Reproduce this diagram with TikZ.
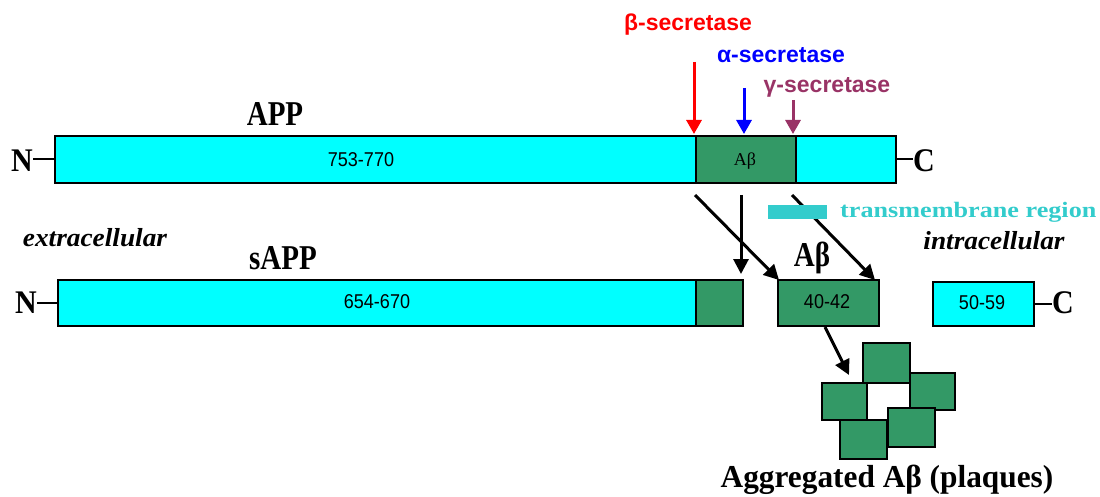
\documentclass[tikz,border=0pt]{standalone}
\usepackage{fontspec}
\setmainfont{Liberation Serif}
\newfontfamily\sansf{Liberation Sans}
\usetikzlibrary{arrows.meta}
\definecolor{cyanbar}{HTML}{00FFFF}
\definecolor{abgreen}{HTML}{339966}
\definecolor{legcyan}{HTML}{33CCCC}
\definecolor{gpurple}{HTML}{993366}
\definecolor{bred}{HTML}{FF0000}
\definecolor{ablue}{HTML}{0000FF}
\tikzset{
  barbox/.style={draw=black, line width=1.8pt, inner sep=0pt, anchor=north west},
  cyanbox/.style={barbox, fill=cyanbar},
  greenbox/.style={barbox, fill=abgreen},
  numlab/.style={font=\sansf\fontsize{20}{20}\selectfont, inner sep=0pt, xscale=0.9},
  biglab/.style={font=\bfseries\fontsize{29}{29}\selectfont, inner sep=0pt},
  endlab/.style={font=\bfseries\fontsize{30}{30}\selectfont, inner sep=0pt},
  celllab/.style={font=\bfseries\itshape\fontsize{26}{26}\selectfont, inner sep=0pt},
  seclab/.style={font=\sansf\bfseries\fontsize{23}{23}\selectfont, inner sep=0pt},
  secarrow/.style={line width=3pt, -{Triangle[length=14pt,width=15pt]}},
  blkarrow/.style={line width=3pt, black, -{Triangle[length=15pt,width=15pt]}},
  plaq/.style={draw=black, line width=1.8pt, fill=abgreen},
  link/.style={line width=1.8pt}
}
\begin{document}
\begin{tikzpicture}[x=1pt,y=-1pt]
\useasboundingbox (0,0) rectangle (1100,497);

% APP bar
\node[cyanbox, minimum width=841pt, minimum height=47pt] (app) at (54,135) {};
\node[greenbox, minimum width=100pt, minimum height=47pt] (appab) at (695,135) {};
\node[numlab] (n1) at (361,160) {753-770};
\node[font=\fontsize{18}{18}\selectfont, inner sep=0pt] (abin) at (745,161) {Aβ};
\node[biglab] (applab) at (275,114) {\scalebox{1}[1.2]{APP}};
\node[endlab, anchor=east] (nA) at (33,161) {\scalebox{1}[1.1]{N}};
\node[endlab, anchor=west] (cA) at (913,161) {\scalebox{1}[1.1]{C}};
\draw[link] (nA.east |- app.west) -- (app.west);
\draw[link] (app.east) -- (cA.west |- app.east);

% secretases
\node[seclab, text=bred] (beta) at (688,25) {β-secretase};
\node[seclab, text=ablue] (alpha) at (781,55) {α-secretase};
\node[seclab, text=gpurple] (gamma) at (827,87) {γ-secretase};
\coordinate (bs) at (694,62);
\coordinate (as) at (744,88);
\coordinate (gs) at (793,100);
\coordinate (bt) at (694,134);
\coordinate (at) at (744,134);
\coordinate (gt) at (793,134);
\draw[secarrow, bred] (bs) -- (bt);
\draw[secarrow, ablue] (as) -- (at);
\draw[secarrow, gpurple] (gs) -- (gt);

% sAPP bar
\node[cyanbox, minimum width=638pt, minimum height=46pt] (sapp) at (57,279) {};
\node[greenbox, minimum width=47pt, minimum height=46pt] (sappab) at (695,279) {};
\node[numlab] (n2) at (377,302) {654-670};
\node[biglab] (sapplab) at (283,258) {\scalebox{1}[1.2]{sAPP}};
\node[endlab, anchor=east] (nS) at (37,303) {\scalebox{1}[1.1]{N}};
\draw[link] (nS.east |- sapp.west) -- (sapp.west);

% Abeta fragment
\node[greenbox, minimum width=101pt, minimum height=46pt] (ab) at (777,279) {};
\node[numlab] (n3) at (827,302) {40-42};
\node[biglab] (ablab) at (812,258) {\scalebox{1}[1.2]{Aβ}};

% C-terminal fragment
\node[cyanbox, minimum width=101pt, minimum height=44pt] (ct) at (932,281) {};
\node[numlab] (n4) at (982,303) {50-59};
\node[endlab, anchor=west] (cC) at (1052,303) {\scalebox{1}[1.1]{C}};
\draw[link] (ct.east) -- (cC.west |- ct.east);

% cleavage arrows
\coordinate (c1) at (695,195);
\coordinate (c2) at (741,195);
\coordinate (c3) at (792,195);
\coordinate (d1) at (779,280);
\coordinate (d2) at (741,274);
\coordinate (d3) at (875,280);
\draw[blkarrow] (c1) -- (d1);
\draw[blkarrow] (c2) -- (d2);
\draw[blkarrow] (c3) -- (d3);

% legend
\node[fill=legcyan, minimum width=59pt, minimum height=14pt, inner sep=0pt] (legbox) at (797,212) {};
\node[font=\bfseries\fontsize{22}{22}\selectfont, text=legcyan, inner sep=0pt, anchor=west] (legtext) at (840,212) {\scalebox{1.19}[1]{transmembrane region}};

% cell sides
\node[celllab] (extra) at (95,238) {\scalebox{1.05}[1]{extracellular}};
\node[celllab] (intra) at (994,241) {\scalebox{1.05}[1]{intracellular}};

% aggregation
\coordinate (p0) at (825,327);
\coordinate (p1) at (849,375);
\draw[blkarrow] (p0) -- (p1);
\filldraw[plaq] (863,343) rectangle (910,383);
\filldraw[plaq] (910,373) rectangle (955,410);
\filldraw[plaq] (822,383) rectangle (867,420);
\filldraw[plaq] (888,408) rectangle (935,447);
\filldraw[plaq] (840,420) rectangle (887,459);
\node[biglab] (agg) at (887,480) {\scalebox{1.08}[1.1]{Aggregated Aβ (plaques)}};
\end{tikzpicture}
\end{document}
